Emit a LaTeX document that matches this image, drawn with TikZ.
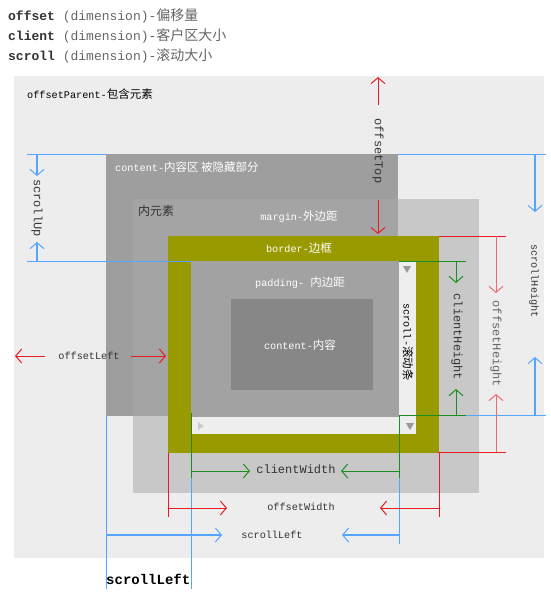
\documentclass[tikz,border=0pt]{standalone}
\usepackage{fontspec}
\setmonofont{Liberation Mono}
\newfontfamily\cjk{Noto Sans CJK SC}
\usetikzlibrary{arrows.meta}
\definecolor{bgc}{HTML}{EDEDED}
\definecolor{areac}{HTML}{9E9E9E}
\definecolor{innerc}{HTML}{C8C8C8}
\definecolor{overc}{HTML}{A4A4A4}
\definecolor{olivec}{HTML}{999900}
\definecolor{padc}{HTML}{A2A2A2}
\definecolor{boxc}{HTML}{878787}
\definecolor{barc}{HTML}{EEEEEE}
\definecolor{bluec}{HTML}{55A5FF}
\definecolor{redc}{HTML}{E81C24}
\definecolor{greenc}{HTML}{1E8C1E}
\definecolor{txtc}{HTML}{333333}
\definecolor{headgray}{HTML}{666666}
\tikzset{
  lbl/.style={font=\ttfamily\fontsize{10.2}{12}\selectfont, text=txtc, inner sep=0pt},
  big/.style={font=\ttfamily\fontsize{12}{14}\selectfont},
  wlbl/.style={lbl, text=white},
  vlbl/.style={lbl, rotate=-90},
  head/.style={anchor=west, inner sep=0pt, font=\ttfamily\fontsize{13}{15}\selectfont, text=headgray},
  dim/.style={line width=1pt, -{Straight Barb[length=6pt,width=14pt,line width=1pt]}},
  bdim/.style={dim, bluec, line width=1.4pt},
  rdim/.style={dim, redc},
  ldim/.style={dim, redc!65},
  gdim/.style={dim, greenc},
  bl/.style={bluec, line width=1pt},
  rl/.style={redc, line width=1pt},
  gl/.style={greenc, line width=1pt},
}
\newcommand{\zh}[1]{{\cjk #1}}
\begin{document}
\begin{tikzpicture}[x=1pt,y=-1pt]
\useasboundingbox (0,0) rectangle (551,603);
\fill[white] (0,0) rectangle (551,603);
% header
\node[head] (h1) at (8,16) {\textbf{\color{txtc}offset} (dimension)-\zh{\fontsize{14}{16}\selectfont 偏移量}};
\node[head] (h2) at (8,36) {\textbf{\color{txtc}client} (dimension)-\zh{\fontsize{14}{16}\selectfont 客户区大小}};
\node[head] (h3) at (8,56) {\textbf{\color{txtc}scroll} (dimension)-\zh{\fontsize{14}{16}\selectfont 滚动大小}};
% offsetParent
\fill[bgc] (14,76) rectangle (544,558);
\node[lbl, anchor=west, text=black] (parent) at (27,94) {offsetParent-\zh{\fontsize{11.5}{13}\selectfont 包含元素}};
% top blue line (behind content area)
\draw[bl] (27,154) -- (546,154);
% inner element & content area
\fill[innerc] (133,199) rectangle (479,493);
\fill[areac] (106,154) rectangle (398,416);
\fill[overc] (133,199) rectangle (398,416);
\node[wlbl, anchor=west] (area) at (115,167) {content-\zh{\fontsize{11.5}{13}\selectfont 内容区 被隐藏部分}};
\node[lbl, anchor=west, text=txtc] (inner) at (138,211) {\zh{\fontsize{12}{14}\selectfont 内元素}};
\node[wlbl] (margin) at (299,217) {margin-\zh{\fontsize{11.5}{13}\selectfont 外边距}};
% border
\fill[olivec] (168,236) rectangle (439,453);
\fill[padc] (191,261) rectangle (399,417);
\fill[barc] (191,417) rectangle (416,434);
\fill[barc] (399,261) rectangle (416,434);
\fill[boxc] (231,299) rectangle (373,390);
\fill[gray!80] (403,266) -- (411,266) -- (407,273) -- cycle;
\fill[gray!80] (406,423) -- (414,423) -- (410,430) -- cycle;
\fill[gray!40] (198,422) -- (198,430) -- (204,426) -- cycle;
\node[wlbl] (border) at (299,248) {border-\zh{\fontsize{11.5}{13}\selectfont 边框}};
\node[wlbl] (padding) at (300,283) {padding- \zh{\fontsize{11.5}{13}\selectfont 内边距}};
\node[wlbl] (content) at (300,345) {content-\zh{\fontsize{11.5}{13}\selectfont 内容}};
\node[vlbl, text=black] (sbar) at (408,342) {scroll-\zh{\fontsize{11.5}{13}\selectfont 滚动条}};
% scrollUp
\draw[bl] (27,261) -- (191,261);
\draw[bdim] (37,154) -- (37,176);
\draw[bdim] (37,261) -- (37,242);
\node[vlbl, big] (sup) at (37,208) {scrollUp};
% scrollHeight
\draw[bdim] (535,154) -- (535,212);
\draw[bl] (466,415) -- (546,415);
\draw[bdim] (535,415) -- (535,357);
\node[vlbl] (sh) at (534,281) {scrollHeight};
% offsetTop
\draw[rdim] (378,105) -- (378,77);
\draw[rdim] (378,200) -- (378,234);
\node[vlbl, big] (ot) at (378,151) {offsetTop};
% clientHeight
\draw[gl] (399,261) -- (466,261);
\draw[gl] (399,415) -- (466,415);
\draw[gdim] (456,261) -- (456,283);
\draw[gdim] (456,415) -- (456,389);
\node[vlbl, big] (ch) at (457,337) {clientHeight};
% offsetHeight
\draw[rl] (439,236) -- (506,236);
\draw[rl] (438,452) -- (506,452);
\draw[ldim] (496,236) -- (496,293);
\draw[ldim] (496,452) -- (496,394);
\node[vlbl, big, text=headgray] (oh) at (496,344) {offsetHeight};
% offsetLeft
\draw[rdim] (45,356) -- (15,356);
\draw[rdim] (131,356) -- (166,356);
\node[lbl] (ol) at (89,356) {offsetLeft};
% bottom verticals
\draw[bl] (106,416) -- (106,589);
\draw[bl] (191,478) -- (191,589);
\draw[bl] (399,478) -- (399,544);
\draw[gl] (191,413) -- (191,478);
\draw[gl] (399,415) -- (399,478);
\draw[rl] (168,453) -- (168,517);
\draw[rl] (439,453) -- (439,517);
% clientWidth
\draw[gdim] (191,471) -- (250,471);
\draw[gdim] (399,471) -- (341,471);
\node[lbl, big] (cw) at (296,469) {clientWidth};
% offsetWidth
\draw[rdim] (168,508) -- (227,508);
\draw[rdim] (439,508) -- (380,508);
\node[lbl] (ow) at (301,507) {offsetWidth};
% scrollLeft
\draw[bdim] (106,535) -- (222,535);
\draw[bdim] (399,535) -- (342,535);
\node[lbl] (sl) at (272,535) {scrollLeft};
\node[anchor=west, inner sep=0pt, font=\ttfamily\bfseries\fontsize{14}{16}\selectfont, text=black] (slb) at (106,579) {scrollLeft};
\end{tikzpicture}
\end{document}
